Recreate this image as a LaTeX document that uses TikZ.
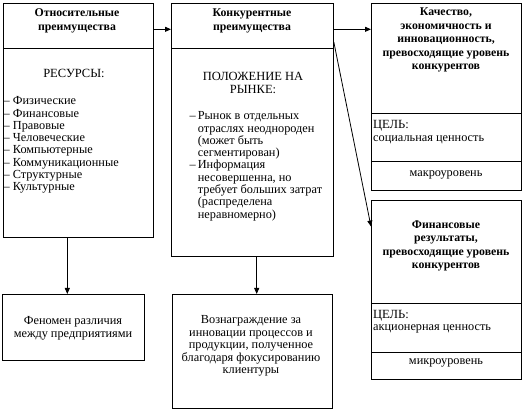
\documentclass[tikz,border=0pt]{standalone}
\usepackage{fontspec}
\setmainfont{Liberation Serif}
\usetikzlibrary{arrows.meta}
\begin{document}
\begin{tikzpicture}[x=1pt,y=-1pt,
  box/.style={draw,line width=0.8pt,inner sep=0pt,anchor=north west},
  txt/.style={inner sep=0pt,align=center,font=\fontsize{12.3}{12.5}\selectfont},
  lst/.style={inner sep=0pt,align=left,anchor=north west,font=\fontsize{12.3}{12.3}\selectfont},
  hdr/.style={inner sep=0pt,align=center,font=\bfseries\fontsize{11.8}{13.5}\selectfont},
  big/.style={inner sep=0pt,align=center,font=\fontsize{12.5}{12.4}\selectfont},
  arr/.style={line width=0.8pt,-{Triangle[length=6pt,width=5pt]}},
  sep/.style={line width=0.8pt}]
\useasboundingbox (0,0) rectangle (523,409);
% boxes
\node[box,minimum width=150pt,minimum height=234pt] (b1) at (3,3) {};
\node[box,minimum width=162pt,minimum height=253pt] (b2) at (171,3) {};
\node[box,minimum width=150pt,minimum height=187pt] (b3) at (371,3) {};
\node[box,minimum width=150pt,minimum height=179pt] (b4) at (371,200) {};
\node[box,minimum width=142pt,minimum height=66pt] (b5) at (2,294) {};
\node[box,minimum width=160pt,minimum height=114pt] (b6) at (172,294) {};
% dividers
\draw[sep] (b1.west |- 0,48) -- (b1.east |- 0,48);
\draw[sep] (b2.west |- 0,48) -- (b2.east |- 0,48);
\draw[sep] (b3.west |- 0,113) -- (b3.east |- 0,113);
\draw[sep] (b3.west |- 0,161) -- (b3.east |- 0,161);
\draw[sep] (b4.west |- 0,303) -- (b4.east |- 0,303);
\draw[sep] (b4.west |- 0,352) -- (b4.east |- 0,352);
% texts box 1
\node[hdr] (h1) at (77,21) {Относительные\\преимущества};
\node[big] (r1) at (74,73) {РЕСУРСЫ:};
\node[lst] (l1) at (3.5,96.5) {– Физические\\– Финансовые\\– Правовые\\– Человеческие\\– Компьютерные\\– Коммуникационные\\– Структурные\\– Культурные};
% box 2
\node[hdr] (h2) at (252,21) {Конкурентные\\преимущества};
\node[big] (r2) at (253,83) {ПОЛОЖЕНИЕ НА\\РЫНКЕ:};
\node[lst] (l2) at (189.5,111.5) {–\hspace{2pt}Рынок в отдельных\\\hspace*{8.15pt}отраслях неоднороден\\\hspace*{8.15pt}(может быть\\\hspace*{8.15pt}сегментирован)\\–\hspace{2pt}Информация\\\hspace*{8.15pt}несовершенна, но\\\hspace*{8.15pt}требует больших затрат\\\hspace*{8.15pt}(распределена\\\hspace*{8.15pt}неравномерно)};
% box 3
\node[hdr] (h3) at (446,40) {Качество,\\экономичность и\\инновационность,\\превосходящие уровень\\конкурентов};
\node[big,anchor=west] (c3) at (373,126) {ЦЕЛЬ:};
\node[txt,anchor=west] (g3) at (373,140) {социальная ценность};
\node[txt] (m3) at (446,175) {макроуровень};
% box 4
\node[hdr] (h4) at (446,246) {Финансовые\\результаты,\\превосходящие уровень\\конкурентов};
\node[big,anchor=west] (c4) at (373,316) {ЦЕЛЬ:};
\node[txt,anchor=west] (g4) at (373,329) {акционерная ценность};
\node[txt] (m4) at (446,363) {микроуровень};
% box 5, 6
\node[txt] (t5) at (73,328.5) {Феномен различия\\между предприятиями};
\node[txt] (t6) at (251,346) {Вознаграждение за\\инновации процессов и\\продукции, полученное\\благодаря фокусированию\\клиентуры};
% arrows
\draw[arr] (b1.east |- 0,29.3) -- (b2.west |- 0,29.3);
\draw[arr] (b2.east |- 0,29.3) -- (b3.west |- 0,29.3);
\draw[arr] (b2.east |- 0,42) -- (b4.west |- 0,226.5);
\draw[arr] (b1.south -| 67.3,0) -- (b5.north -| 67.3,0);
\draw[arr] (b2.south -| 256.7,0) -- (b6.north -| 256.7,0);
\end{tikzpicture}
\end{document}
